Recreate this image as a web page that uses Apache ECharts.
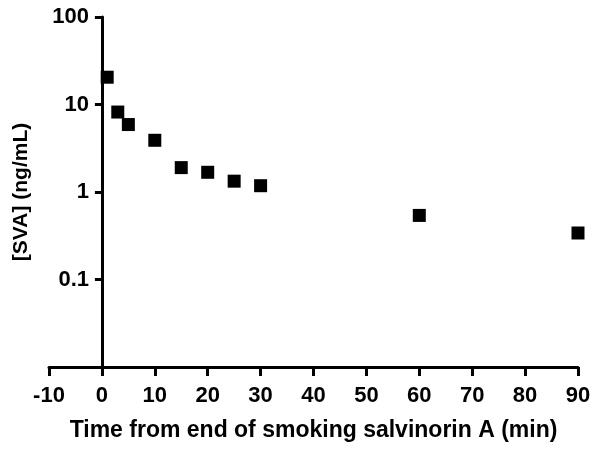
<!DOCTYPE html>
<html lang="en">
<head>
  <meta charset="UTF-8">
  <title>SVA</title>
  <script src="https://cdn.jsdelivr.net/npm/echarts@6/dist/echarts.min.js"></script>
  <style>
    html, body { margin: 0; padding: 0; background: #fff; }
    #main { width: 601px; height: 452px; }
  </style>
</head>
<body>
<div id="main"></div>
<script>
  // time after smoking (min) and concentration (ng/mL)
  var times = [1, 3, 5, 10, 15, 20, 25, 30, 60, 90];
  var conc = [20.5, 8.2, 5.9, 3.9, 1.9, 1.68, 1.33, 1.18, 0.54, 0.34];
  var xTicks = [-10, 90, 10];   // min, max, step
  var yRange = [0.01, 100];

  var points = [];
  for (var i = 0; i < times.length; i++) {
    points.push([times[i], conc[i]]);
  }

  var font = '"Liberation Sans", Arial, sans-serif';
  var chart = echarts.init(document.getElementById('main'));
  chart.setOption({
    animation: false,
    grid: { left: 49, right: 23, top: 17, bottom: 85, outerBoundsMode: 'none', containLabel: false },
    xAxis: {
      type: 'value',
      min: xTicks[0],
      max: xTicks[1],
      interval: xTicks[2],
      name: 'Time from end of smoking salvinorin A (min)',
      nameLocation: 'middle',
      nameGap: 52,
      nameTextStyle: { fontFamily: font, fontWeight: 'bold', fontSize: 23, color: '#000' },
      axisLine: { onZero: false, lineStyle: { color: '#000', width: 3 } },
      axisTick: { length: 9, lineStyle: { color: '#000', width: 3 } },
      axisLabel: { margin: 18, fontFamily: font, fontWeight: 'bold', fontSize: 22, color: '#000' },
      splitLine: { show: false }
    },
    yAxis: {
      type: 'log',
      logBase: 10,
      min: yRange[0],
      max: yRange[1],
      name: '[SVA] (ng/mL)',
      nameLocation: 'middle',
      nameGap: 17,
      nameTextStyle: { fontFamily: font, fontWeight: 'bold', fontSize: 21, color: '#000' },
      axisLine: { show: true, onZero: true, lineStyle: { color: '#000', width: 3 } },
      axisTick: { show: true, length: 7, lineStyle: { color: '#000', width: 3 } },
      axisLabel: {
        // labels sit at the grid edge, so pull them back to the zero line
        margin: -40, fontFamily: font, fontWeight: 'bold', fontSize: 22, color: '#000',
        formatter: function (v) { return v < 0.05 ? '' : String(v); }
      },
      splitLine: { show: false }
    },
    series: [{
      type: 'scatter',
      data: points,
      symbol: 'rect',
      symbolSize: 13,
      itemStyle: { color: '#000', opacity: 1 }
    }]
  });
</script>
</body>
</html>
